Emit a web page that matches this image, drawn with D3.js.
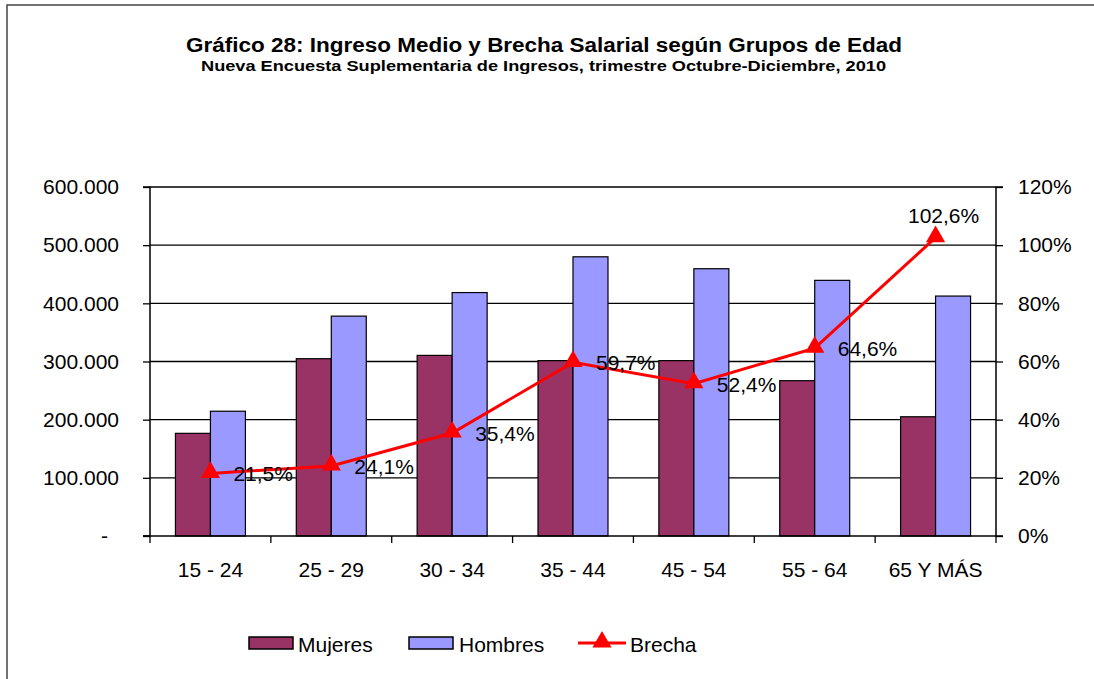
<!DOCTYPE html>
<html><head><meta charset="utf-8">
<script src="https://cdn.jsdelivr.net/npm/d3@7"></script>
<style>body{margin:0;background:#fff}svg{display:block;font-family:"Liberation Sans",Arial,sans-serif}</style>
</head><body>
<svg id="c" width="1094" height="679"></svg>
<script>
const categories = ["15 - 24","25 - 29","30 - 34","35 - 44","45 - 54","55 - 64","65 Y MÁS"];
const mujeres = [176500, 304800, 310500, 301500, 301500, 267000, 205000];
const hombres = [214500, 378000, 418500, 480000, 459500, 439500, 412500];
const brecha = [0.215, 0.241, 0.354, 0.597, 0.524, 0.646, 1.026];
const brechaLabels = ["21,5%","24,1%","35,4%","59,7%","52,4%","64,6%","102,6%"];
const leftTicks = [0,100000,200000,300000,400000,500000,600000];
const rightTicks = [0,0.2,0.4,0.6,0.8,1.0,1.2];
const seriesNames = ["Mujeres","Hombres"];
const colors = {Mujeres:"#993366", Hombres:"#9999FF", Brecha:"#FF0000"};

const svg = d3.select("#c");
const L=150, R=996, T=187, B=536;
const FS = 21;

// outer border
svg.append("path").attr("d","M7,679 L7,5 L1094,5").attr("fill","none").attr("stroke","#444").attr("stroke-width",1.5);

svg.append("text").attr("x",186).attr("y",52).attr("font-size",20).attr("font-weight","bold")
  .attr("textLength",716).attr("lengthAdjust","spacingAndGlyphs")
  .text("Gráfico 28: Ingreso Medio y Brecha Salarial según Grupos de Edad");
svg.append("text").attr("x",201).attr("y",71).attr("font-size",15).attr("font-weight","bold")
  .attr("textLength",685).attr("lengthAdjust","spacingAndGlyphs")
  .text("Nueva Encuesta Suplementaria de Ingresos, trimestre Octubre-Diciembre, 2010");

const x = d3.scaleBand().domain(categories).range([L,R]).padding(0);
const xs = d3.scaleBand().domain(seriesNames).range([0,x.bandwidth()]).paddingInner(0).paddingOuter(0.727);
const y = d3.scaleLinear().domain([0,600000]).range([B,T]);
const y2 = d3.scaleLinear().domain([0,1.2]).range([B,T]);

// gridlines
svg.append("g").selectAll("line").data(leftTicks.slice(1)).join("line")
  .attr("x1",L).attr("x2",R).attr("y1",d=>y(d)).attr("y2",d=>y(d))
  .attr("stroke","#000").attr("stroke-width",1.3);

// bars
const groups = svg.append("g").selectAll("g").data(categories).join("g")
  .attr("transform",d=>`translate(${x(d)},0)`);
groups.selectAll("rect").data((d,i)=>[{s:"Mujeres",v:mujeres[i]},{s:"Hombres",v:hombres[i]}]).join("rect")
  .attr("x",d=>xs(d.s)).attr("width",xs.bandwidth())
  .attr("y",d=>y(d.v)).attr("height",d=>B-y(d.v))
  .attr("fill",d=>colors[d.s]).attr("stroke","#000").attr("stroke-width",1.2);

// axes
const fmt = d => d===0 ? "-" : d3.format(",")(d).replace(/,/g,".");
const ga = svg.append("g").attr("transform",`translate(${L},0)`)
  .call(d3.axisLeft(y).tickValues(leftTicks).tickFormat(fmt).tickSize(7).tickPadding(24));
ga.select(".domain").attr("stroke-width",1.5).attr("d",`M-7,${T}H0V${B}H-7`);
ga.selectAll("line").attr("stroke-width",1.3);
ga.selectAll("text").attr("font-size",FS).attr("fill","#000").attr("font-family","Liberation Sans, Arial, sans-serif")
  .attr("dx",d=>d===0?-11:0);

const gr = svg.append("g").attr("transform",`translate(${R},0)`)
  .call(d3.axisRight(y2).tickValues(rightTicks).tickFormat(d=>Math.round(d*100)+"%").tickSize(7).tickPadding(15));
gr.select(".domain").attr("stroke-width",1.5).attr("d",`M7,${T}H0V${B}H7`);
gr.selectAll("line").attr("stroke-width",1.3);
gr.selectAll("text").attr("font-size",FS).attr("fill","#000").attr("font-family","Liberation Sans, Arial, sans-serif");

// bottom axis
const gb = svg.append("g");
gb.append("line").attr("x1",L-7).attr("x2",R).attr("y1",B).attr("y2",B).attr("stroke","#000").attr("stroke-width",1.5);
gb.selectAll("line.t").data(categories.concat(["__end"])).join("line").attr("class","t")
  .attr("x1",(d,i)=> i<categories.length ? x(d) : R).attr("x2",(d,i)=> i<categories.length ? x(d) : R)
  .attr("y1",B).attr("y2",B+7).attr("stroke","#000").attr("stroke-width",1.3);
gb.selectAll("text").data(categories).join("text")
  .attr("x",d=>x(d)+x.bandwidth()/2).attr("y",577).attr("text-anchor","middle")
  .attr("font-size",FS).text(d=>d);

// line
const cx = (d,i)=>x(categories[i])+x.bandwidth()/2;
const line = d3.line().x((d,i)=>cx(d,i)).y(d=>y2(d));
svg.append("path").datum(brecha).attr("d",line).attr("fill","none")
  .attr("stroke",colors.Brecha).attr("stroke-width",3);
const tri = d3.symbol().type(d3.symbolTriangle).size(160);
svg.append("g").selectAll("path").data(brecha).join("path")
  .attr("d",tri).attr("transform",(d,i)=>`translate(${cx(d,i)},${y2(d)-1})`).attr("fill",colors.Brecha);

// labels
svg.append("g").selectAll("text").data(brecha).join("text")
  .attr("x",(d,i)=> i===brecha.length-1 ? cx(d,i)+8 : cx(d,i)+23)
  .attr("y",(d,i)=> i===brecha.length-1 ? y2(d)-15 : y2(d)+8)
  .attr("text-anchor",(d,i)=> i===brecha.length-1 ? "middle" : "start")
  .attr("font-size",FS).text((d,i)=>brechaLabels[i]);

// legend
const lg = svg.append("g");
lg.append("rect").attr("x",249).attr("y",637).attr("width",44).attr("height",12).attr("fill",colors.Mujeres).attr("stroke","#000").attr("stroke-width",1.5);
lg.append("text").attr("x",298).attr("y",652).attr("font-size",FS).text("Mujeres");
lg.append("rect").attr("x",409).attr("y",637).attr("width",44).attr("height",12).attr("fill",colors.Hombres).attr("stroke","#000").attr("stroke-width",1.5);
lg.append("text").attr("x",459).attr("y",652).attr("font-size",FS).text("Hombres");
lg.append("line").attr("x1",578).attr("x2",626).attr("y1",643).attr("y2",643).attr("stroke",colors.Brecha).attr("stroke-width",3);
lg.append("path").attr("d",tri).attr("transform","translate(602,642)").attr("fill",colors.Brecha);
lg.append("text").attr("x",630).attr("y",652).attr("font-size",FS).text("Brecha");
</script>
</body></html>
